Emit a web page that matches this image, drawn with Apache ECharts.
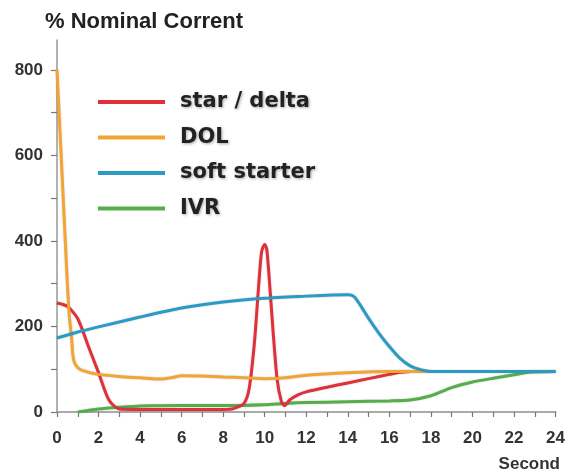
<!DOCTYPE html>
<html><head><meta charset="utf-8">
<script src="https://cdn.jsdelivr.net/npm/echarts@6/dist/echarts.min.js"></script>
<style>html,body{margin:0;padding:0;background:#fff}#c{width:568px;height:473px}</style>
</head><body><div id="c"></div>
<script>
// ---- data ----
const seriesNames = ['star / delta', 'DOL', 'soft starter', 'IVR'];
const xTickStep = 1, xLabelStep = 2;
const yTickStep = 100, yLabelStep = 200;

const tStar = [0,0.5,1,1.5,2,2.5,3,4,6,8,8.5,9,9.25,9.5,9.7,9.85,10,10.1,10.25,10.4,10.6,10.8,10.95,11.2,11.6,12,13,14,15,16,16.5,17];
const vStar = [255,247,218,155,92,28,7,6,6,6,8,20,55,160,290,375,392,380,290,190,75,25,15,28,40,47,58,68,78,88,93,95];

const tDOL = [0,0.1,0.2,0.3,0.4,0.5,0.6,0.7,0.75,0.8,0.9,1.1,1.5,2,3,4,5,5.5,6,7,8,9,10,11,12,14,16,18];
const vDOL = [800,700,600,500,400,300,220,175,140,122,110,100,93,88,83,80,77,80,85,84,82,80,78,80,86,92,95,95];

const tSoft = [0,1,2,4,6,8,10,12,13,14,14.3,14.6,15,15.5,16,16.5,17,17.5,18,19,24];
const vSoft = [173,187,199,222,243,257,266,271,273,274,270,250,219,184,153,126,108,99,95,95,95];

const tIVR = [1,2,3,4,6,8,10,11,12,14,16,17,18,19,20,21,22,22.7,24];
const vIVR = [0,7,11,14,15,15,17,20,22,24,26,28,38,57,70,79,87,93,95];

const colors = {'star / delta':'#e0303a','DOL':'#f3a534','soft starter':'#2b9bc4','IVR':'#55ae4a'};

function pairs(t, v){ return t.map((x,i)=>[x, v[i]]); }

const chart = echarts.init(document.getElementById('c'), null, {renderer:'canvas'});
function mk(name, t, v){
  return {
    name, type:'line', data:pairs(t,v), smooth:0.25,
    showSymbol:false, symbol:'none',
    lineStyle:{color:colors[name], width:3, shadowColor:'rgba(0,0,0,0.2)', shadowBlur:2},
    itemStyle:{color:colors[name]}
  };
}
const lbl = {fontFamily:'Liberation Sans', fontWeight:'bold', fontSize:17, color:'#333'};
chart.setOption({
  animation:false,
  title:[
    {text:'% Nominal Corrent', left:45, top:11, padding:0,
     textStyle:{fontFamily:'Liberation Sans', fontWeight:'bold', fontSize:22, color:'#222'}},
    {text:'Second', right:8, top:456, padding:0,
     textStyle:{fontFamily:'Liberation Sans', fontWeight:'bold', fontSize:17, color:'#333'}}
  ],
  legend:{
    data:seriesNames, orient:'vertical', left:98, top:90, padding:0, icon:'rect',
    itemWidth:67, itemHeight:4, itemGap:11.5,
    textStyle:{fontFamily:'DejaVu Sans', fontWeight:'bold', fontSize:21, lineHeight:24, color:'#222',
      padding:[0,0,0,10], textShadowColor:'rgba(0,0,0,0.35)', textShadowBlur:3, textShadowOffsetX:1, textShadowOffsetY:1}
  },
  grid:{left:57, right:10, top:40, bottom:61, containLabel:false},
  xAxis:{
    type:'value', min:0, max:24, interval:xTickStep,
    axisLine:{show:true, lineStyle:{color:'#aaa', width:2}},
    axisTick:{show:true, inside:false, length:5, lineStyle:{color:'#777', width:1.2}},
    axisLabel:Object.assign({margin:18, showMaxLabel:true,
      formatter:v => (v % xLabelStep === 0 ? String(v) : '')}, lbl),
    splitLine:{show:false}
  },
  yAxis:{
    type:'value', min:0, max:870, interval:yTickStep,
    axisLine:{show:true, lineStyle:{color:'#999', width:1.5}},
    axisTick:{show:true, inside:false, length:6, lineStyle:{color:'#777', width:1.2}},
    axisLabel:Object.assign({margin:14, showMaxLabel:false,
      formatter:v => (v % yLabelStep === 0 ? String(v) : '')}, lbl),
    splitLine:{show:false}
  },
  series:[
    mk('IVR', tIVR, vIVR),
    mk('star / delta', tStar, vStar),
    mk('DOL', tDOL, vDOL),
    mk('soft starter', tSoft, vSoft)
  ]
});
</script></body></html>
